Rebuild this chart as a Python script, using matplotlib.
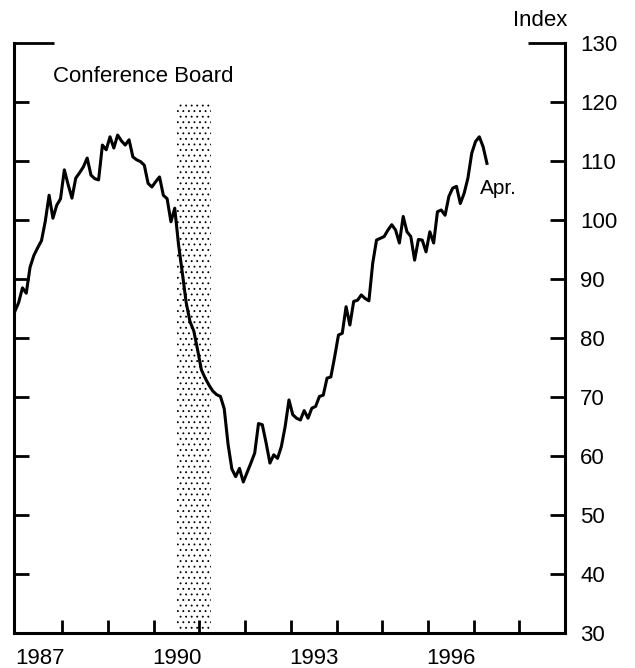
import matplotlib
matplotlib.use('Agg')
import matplotlib.pyplot as plt
import numpy as np

plt.rcParams['font.family'] = ['Liberation Sans', 'DejaVu Sans']
plt.rcParams['hatch.linewidth'] = 0.6

# monthly index, Dec 1986 .. Apr 1997
START_YEAR = 1986
START_MONTH = 12
confidence = [
    84.5, 86.0, 88.5, 87.6, 92.0, 94.0, 95.3, 96.5, 99.8, 104.2,
    100.3, 102.5, 103.6, 108.5, 106.0, 103.7, 107.1, 108.0, 109.0, 110.5,
    107.6, 107.0, 106.8, 112.7, 111.9, 114.1, 112.2, 114.4, 113.4, 112.7,
    113.6, 110.7, 110.2, 109.9, 109.3, 106.2, 105.6, 106.5, 107.3, 104.2,
    103.6, 99.7, 102.0, 95.8, 91.0, 86.0, 82.8, 81.2, 78.0, 74.6,
    73.2, 72.0, 71.0, 70.4, 70.1, 68.0, 62.0, 57.8, 56.5, 57.9,
    55.6, 57.2, 58.8, 60.5, 65.5, 65.3, 62.2, 58.8, 60.2, 59.6,
    61.6, 65.0, 69.5, 67.0, 66.4, 66.1, 67.7, 66.4, 68.1, 68.4,
    70.1, 70.3, 73.2, 73.4, 76.8, 80.5, 80.8, 85.3, 82.2, 86.2,
    86.4, 87.3, 86.7, 86.3, 92.7, 96.6, 96.9, 97.2, 98.3, 99.2,
    98.3, 96.1, 100.6, 98.0, 97.2, 93.2, 96.7, 96.6, 94.6, 98.0,
    96.1, 101.4, 101.7, 100.8, 104.0, 105.4, 105.7, 102.8, 104.5, 107.1,
    111.3, 113.3, 114.1, 112.4, 109.6,
]

recession = [1990.5, 1991.25]
shade_top = 120
year_ticks = list(range(1988, 1999))
label_years = [1987, 1990, 1993, 1996]
y_ticks = list(range(30, 131, 10))

months = np.arange(len(confidence))
t = START_YEAR + (START_MONTH - 1 + months + 0.5) / 12

fig = plt.figure(figsize=(6.35, 6.68), dpi=100)
ax = fig.add_axes([14 / 635, 35 / 668, 551 / 635, 590 / 668])

# recession shading
ax.fill_between(recession, 30, shade_top, facecolor='white', edgecolor='black',
                hatch='...', linewidth=0, zorder=1)
ax.plot(t, confidence, color='black', lw=2.2, zorder=3)

ax.set_xlim(1986.94, 1999.0)
ax.set_ylim(30, 130)

ax.spines['top'].set_visible(False)
for s in ['left', 'right', 'bottom']:
    ax.spines[s].set_linewidth(2.2)

ax.set_yticks(y_ticks)
ax.tick_params(axis='y', which='major', left=True, right=True, labelleft=False,
               labelright=True, direction='in', length=11, width=2, pad=11,
               labelsize=16)

ax.set_xticks(year_ticks)
ax.set_xticks([y + 0.5 for y in label_years], minor=True)
ax.set_xticklabels([str(y) for y in label_years], minor=True)
ax.tick_params(axis='x', which='major', direction='in', length=9.5, width=2,
               labelbottom=False)
ax.tick_params(axis='x', which='minor', length=0, pad=11, labelsize=16)

# long ticks at the top of both sides
top_tick = ax.yaxis.get_major_ticks()[-1]
top_tick.tick1line.set_markersize(29)
top_tick.tick2line.set_markersize(27)

ax.text(0.071, 0.944, 'Conference Board', transform=ax.transAxes,
        fontsize=16, ha='left', va='center')
ax.text(1997.14, 105.4, 'Apr.', fontsize=15, ha='left', va='center')
ax.annotate('Index', xy=(1, 1), xycoords='axes fraction', xytext=(2, 12),
            textcoords='offset points', ha='right', va='baseline', fontsize=16)

fig.savefig('out.png', dpi=100)
